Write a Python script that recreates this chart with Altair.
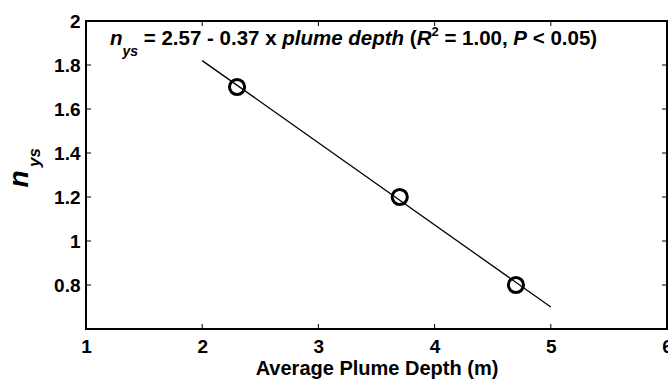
import altair as alt
import pandas as pd

# data
depth = [2.3, 3.7, 4.7]
nys = [1.7, 1.2, 0.8]
fit_depth = [2.0, 5.0]
fit_nys = [1.82, 0.70]
x_ticks = [1, 2, 3, 4, 5, 6]
y_ticks = [0.8, 1.0, 1.2, 1.4, 1.6, 1.8, 2.0]

W, H = 581, 308
FONT = "Liberation Sans"
TL = 5  # inward tick length

pts = pd.DataFrame({"x": depth, "y": nys})
fit = pd.DataFrame({"x": fit_depth, "y": fit_nys})
xt = pd.DataFrame({"x": x_ticks})
yt = pd.DataFrame({"y": y_ticks})

xs = alt.Scale(domain=[1, 6], nice=False, zero=False)
ys = alt.Scale(domain=[0.6, 2.0], nice=False, zero=False)

xaxis = alt.Axis(values=x_ticks, ticks=False, domain=False, grid=False,
                 format="~g", labelFont=FONT, labelFontSize=19, labelFontWeight="bold",
                 labelColor="black", labelPadding=8, labelFlush=False,
                 title="Average Plume Depth (m)", titleFont=FONT,
                 titleFontSize=20, titleFontWeight="bold", titleColor="black",
                 titlePadding=2)
yaxis = alt.Axis(values=y_ticks, ticks=False, domain=False, grid=False,
                 format="~g", labelFont=FONT, labelFontSize=19,
                 labelFontWeight="bold", labelColor="black", labelPadding=6,
                 labelFlush=False, title=None)

line = alt.Chart(fit).mark_line(color="black", strokeWidth=1.3).encode(
    x=alt.X("x:Q", scale=xs, axis=xaxis),
    y=alt.Y("y:Q", scale=ys, axis=yaxis),
)
points = alt.Chart(pts).mark_point(shape="circle", filled=False, size=230,
                                    strokeWidth=3, color="black", opacity=1).encode(
    x=alt.X("x:Q", scale=xs), y=alt.Y("y:Q", scale=ys))

tick_b = alt.Chart(xt).mark_rule(color="black", strokeWidth=1).encode(
    x=alt.X("x:Q", scale=xs), y=alt.value(H), y2=alt.value(H - TL))
tick_t = alt.Chart(xt).mark_rule(color="black", strokeWidth=1).encode(
    x=alt.X("x:Q", scale=xs), y=alt.value(0), y2=alt.value(TL))
tick_l = alt.Chart(yt).mark_rule(color="black", strokeWidth=1).encode(
    y=alt.Y("y:Q", scale=ys), x=alt.value(0), x2=alt.value(TL))
tick_r = alt.Chart(yt).mark_rule(color="black", strokeWidth=1).encode(
    y=alt.Y("y:Q", scale=ys), x=alt.value(W), x2=alt.value(W - TL))

# annotation runs: (text, size, style, baseline shift)
MAIN, SUB, SUP = 20.5, 14, 13
runs = [
    ("n", MAIN, "italic", 0),
    ("ys", SUB, "italic", 11),
    (" = 2.57 - 0.37 x ", MAIN, "normal", 0),
    ("plume depth", MAIN, "italic", 0),
    (" (", MAIN, "normal", 0),
    ("R", MAIN, "italic", 0),
    ("2", SUP, "normal", -9),
    (" = 1.00, ", MAIN, "normal", 0),
    ("P", MAIN, "italic", 0),
    (" < 0.05)", MAIN, "normal", 0),
]
# Arial/Liberation Sans Bold advance widths (per 1000 em) for layout of the runs
adv = {' ': 278, '=': 584, '2': 556, '.': 278, '5': 556, '7': 556, '-': 333,
       '0': 556, '3': 556, 'x': 556, 'p': 611, 'l': 278, 'u': 611, 'm': 889,
       'e': 556, 'd': 611, 't': 333, 'h': 611, '(': 333, ')': 333, 'R': 722,
       '1': 556, ',': 278, 'P': 667, '<': 584, 'n': 611, 'y': 556, 's': 556}
x0, base = 24, 24
layers = [line, points, tick_b, tick_t, tick_l, tick_r]
cur = x0
for text, size, style, shift in runs:
    lead = len(text) - len(text.lstrip(" "))
    cur += lead * adv[' '] * size / 1000
    body = text.strip(" ")
    layers.append(
        alt.Chart(pd.DataFrame({"t": [body]})).mark_text(
            font=FONT, fontSize=size, fontWeight="bold", fontStyle=style,
            align="left", baseline="alphabetic", color="black"
        ).encode(x=alt.value(cur), y=alt.value(base + shift), text="t:N")
    )
    cur += sum(adv[c] for c in body) * size / 1000
    trail = len(text) - len(text.rstrip(" "))
    cur += trail * adv[' '] * size / 1000

# y axis title n_ys (rotated)
layers.append(
    alt.Chart(pd.DataFrame({"t": ["n"]})).mark_text(
        font=FONT, fontSize=28, fontWeight="bold", fontStyle="italic",
        align="center", baseline="alphabetic", angle=270, color="black"
    ).encode(x=alt.value(-58), y=alt.value(158), text="t:N")
)
layers.append(
    alt.Chart(pd.DataFrame({"t": ["ys"]})).mark_text(
        font=FONT, fontSize=17, fontWeight="bold", fontStyle="italic",
        align="left", baseline="alphabetic", angle=270, color="black"
    ).encode(x=alt.value(-46), y=alt.value(146), text="t:N")
)

chart = alt.layer(*layers).properties(
    width=W, height=H, autosize="none",
    padding={"left": 86, "top": 21, "right": 1, "bottom": 52},
    background="white",
).configure_view(stroke="black", strokeWidth=2)

chart.save("out.html", embed_options={"renderer": "svg", "actions": False})
